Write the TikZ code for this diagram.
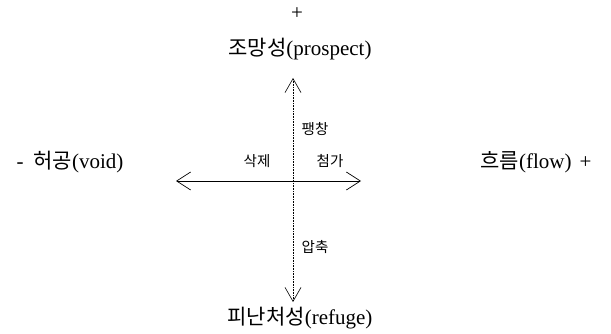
\documentclass[tikz,border=0pt]{standalone}
\usepackage{fontspec}
\setmainfont{Liberation Serif}
\newfontfamily\kr{Noto Sans CJK KR}
\usetikzlibrary{arrows.meta}
\begin{document}
\begin{tikzpicture}[x=1pt,y=-1pt,
  big/.style={font=\fontsize{21}{23}\selectfont, inner sep=0pt, anchor=center},
  small/.style={font=\kr\fontsize{14.5}{16}\selectfont, inner sep=0pt},
  axisarrow/.style={{Straight Barb[length=14pt,width=18pt]}-{Straight Barb[length=14pt,width=18pt]}, line width=0.7pt},
  dotaxis/.style={line width=0.6pt, dash pattern=on 0.8pt off 0.8pt}]
\useasboundingbox (0,0) rectangle (611,334);
\node[big] (plus1) at (297,14) {+};
\node[big] (pros) at (300,49) {{\kr 조망성}(prospect)};
\node[big] (void) at (70,162) {-\hspace{10pt}{\kr 허공}(void)};
\node[big] (flow) at (536,162) {{\kr 흐름}(flow)\hspace{8pt}+};
\node[big] (ref) at (300,318) {{\kr 피난처성}(refuge)};
\coordinate (top) at (293,78);
\coordinate (bot) at (293,302);
\coordinate (left) at (176,181);
\coordinate (right) at (361,181);
\draw[axisarrow] (left) -- (right);
\draw[dotaxis, {Straight Barb[length=14pt,width=16pt]}-{Straight Barb[length=14pt,width=16pt]}] (top) -- (bot);
\node[small] (exp) at (315,129) {팽창};
\node[small] (del) at (257,161) {삭제};
\node[small] (add) at (330,161) {첨가};
\node[small] (comp) at (315,247) {압축};
\end{tikzpicture}
\end{document}
